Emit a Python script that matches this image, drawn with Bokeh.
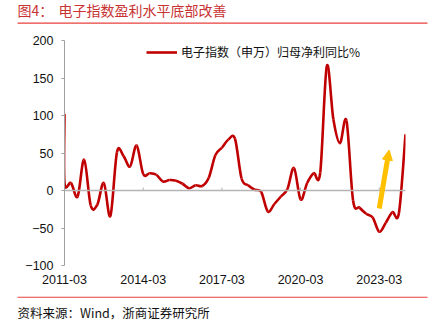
from bokeh.plotting import figure
from bokeh.layouts import column
from bokeh.models import (Range1d, FixedTicker, Arrow, NormalHead,
                          Legend, LegendItem, Span, ColumnDataSource)
from bokeh.core.properties import value
from bokeh.embed import file_html
from bokeh.resources import INLINE

# ---- data ----
quarters = [f"{y}-{m:02d}" for y in range(2011, 2025) for m in (3, 6, 9, 12)][:53]
dates = ["2011-03"] + quarters          # first report point duplicated at start
values = [102, 10, 10, -8, 41, -20, -19, 10, -34, 51, 46, 32, 60, 22, 23, 21, 12, 14, 13, 9,
          3, 7, 6, 17, 47, 57, 68, 69, 16, 7, 1, -2, -28, -18, -8, 2, 30, -12, 10, 23,
          24, 166, 95, 63, 93, -13, -23, -31, -36, -55, -43, -29, -30, 75]
tick_labels = ["2011-03", "2014-03", "2017-03", "2020-03", "2023-03"]
y_ticks = [-100, -50, 0, 50, 100, 150, 200]
series_name = "电子指数（申万）归母净利同比%"
title_prefix = "图4："
title_text = "电子指数盈利水平底部改善"
source_text = "资料来源：Wind，浙商证券研究所"
arrow_x = [48.0, 49.5]      # quarter positions (2023-03 .. mid 2023)
arrow_y = [-24, 54]

W = 442
CJK = "Noto Sans CJK SC"
RULE = "#E8413C"


def qidx(d):
    y, m = d.split("-")
    return (int(y) - 2011) * 4 + (int(m) - 3) / 3.0


xs = [qidx(d) for d in dates]

# smooth curve through the data points (cubic Bezier segments, like Excel's smoothed line)
n = len(xs)
x0, y0, x1, y1, cx0, cy0, cx1, cy1 = [], [], [], [], [], [], [], []
for i in range(n - 1):
    a = max(i - 1, 0)
    b = min(i + 2, n - 1)
    x0.append(xs[i]); y0.append(values[i])
    x1.append(xs[i + 1]); y1.append(values[i + 1])
    cx0.append(xs[i] + (xs[i + 1] - xs[a]) / 6.0)
    cy0.append(values[i] + (values[i + 1] - values[a]) / 6.0)
    cx1.append(xs[i + 1] - (xs[b] - xs[i]) / 6.0)
    cy1.append(values[i + 1] - (values[b] - values[i]) / 6.0)
bz = ColumnDataSource(dict(x0=x0, y0=y0, x1=x1, y1=y1, cx0=cx0, cy0=cy0, cx1=cx1, cy1=cy1))


def blank(h):
    f = figure(width=W, height=h, output_backend="svg", toolbar_location=None,
               x_range=Range1d(0, W), y_range=Range1d(h, 0),
               x_axis_type=None, y_axis_type=None, min_border=0)
    f.frame_align = False
    f.outline_line_color = None
    f.xgrid.visible = False
    f.ygrid.visible = False
    f.background_fill_color = "white"
    f.border_fill_color = "white"
    return f


# ---- title strip ----
top = blank(30)
top.text(x=[17], y=[9], text=[title_prefix], text_font=value(CJK), text_font_size="14px",
         text_color="#C83232", text_baseline="middle")
top.text(x=[58], y=[9], text=[title_text], text_font=value(CJK), text_font_size="14px",
         text_color="#C83232", text_baseline="middle")
top.segment(x0=[17], y0=[22.6], x1=[427], y1=[22.6], line_color=RULE, line_width=1.3)

# ---- chart ----
p = figure(width=W, height=266, output_backend="svg", toolbar_location=None,
           x_range=Range1d(0, 52), y_range=Range1d(-100, 200))
p.frame_align = False
p.min_border_left = 64
p.min_border_right = 37
p.min_border_top = 10
p.min_border_bottom = 31
p.outline_line_color = None
p.xgrid.visible = False
p.ygrid.visible = False
p.background_fill_color = "white"
p.border_fill_color = "white"

ya = p.yaxis[0]
ya.ticker = FixedTicker(ticks=y_ticks)
ya.axis_line_color = "#A0A0A0"
ya.major_tick_line_color = "#A0A0A0"
ya.major_tick_out = 3
ya.major_tick_in = 0
ya.minor_tick_line_color = None
ya.major_label_text_font = "Liberation Sans"
ya.major_label_text_font_size = "12.5px"
ya.major_label_text_color = "#111111"
ya.major_label_standoff = 8

xa = p.xaxis[0]
xtick_pos = [qidx(t) for t in tick_labels]
xa.ticker = FixedTicker(ticks=xtick_pos)
xa.major_label_overrides = {qidx(t): t for t in tick_labels}
xa.axis_line_color = None
xa.major_tick_line_color = None
xa.minor_tick_line_color = None
xa.major_tick_out = 0
xa.major_label_text_font = "Liberation Sans"
xa.major_label_text_font_size = "12.5px"
xa.major_label_text_color = "#111111"
xa.major_label_standoff = 9

p.add_layout(Span(location=0, dimension="width", line_color="#B4B4B4", line_width=1.5))
p.segment(x0=xtick_pos, x1=xtick_pos, y0=[0] * len(xtick_pos), y1=[4] * len(xtick_pos),
          line_color="#B4B4B4", line_width=1)

r = p.bezier(x0="x0", y0="y0", x1="x1", y1="y1", cx0="cx0", cy0="cy0", cx1="cx1", cy1="cy1",
             source=bz, line_color="#C00000", line_width=2.6)

p.add_layout(Arrow(end=NormalHead(size=10, fill_color="#FFC000", line_color="#FFC000"),
                   x_start=arrow_x[0], y_start=arrow_y[0], x_end=arrow_x[1], y_end=arrow_y[1],
                   line_color="#FFC000", line_width=5))

leg = Legend(items=[LegendItem(label=series_name, renderers=[r])], location=(82, 205),
             glyph_width=31, glyph_height=14, label_standoff=4, padding=0, margin=0,
             spacing=0, border_line_color=None, background_fill_alpha=0,
             label_text_font=CJK, label_text_font_size="12px",
             label_text_color="#111111", label_height=14)
p.add_layout(leg)

# ---- source strip ----
bot = blank(36)
bot.segment(x0=[17], y0=[0.6], x1=[427], y1=[0.6], line_color=RULE, line_width=1.3)
bot.text(x=[17], y=[16], text=[source_text], text_font=value(CJK), text_font_size="12.5px",
         text_color="#111111", text_baseline="middle")

layout = column(top, p, bot, spacing=0)
open("out.html", "w").write(file_html(layout, INLINE))
